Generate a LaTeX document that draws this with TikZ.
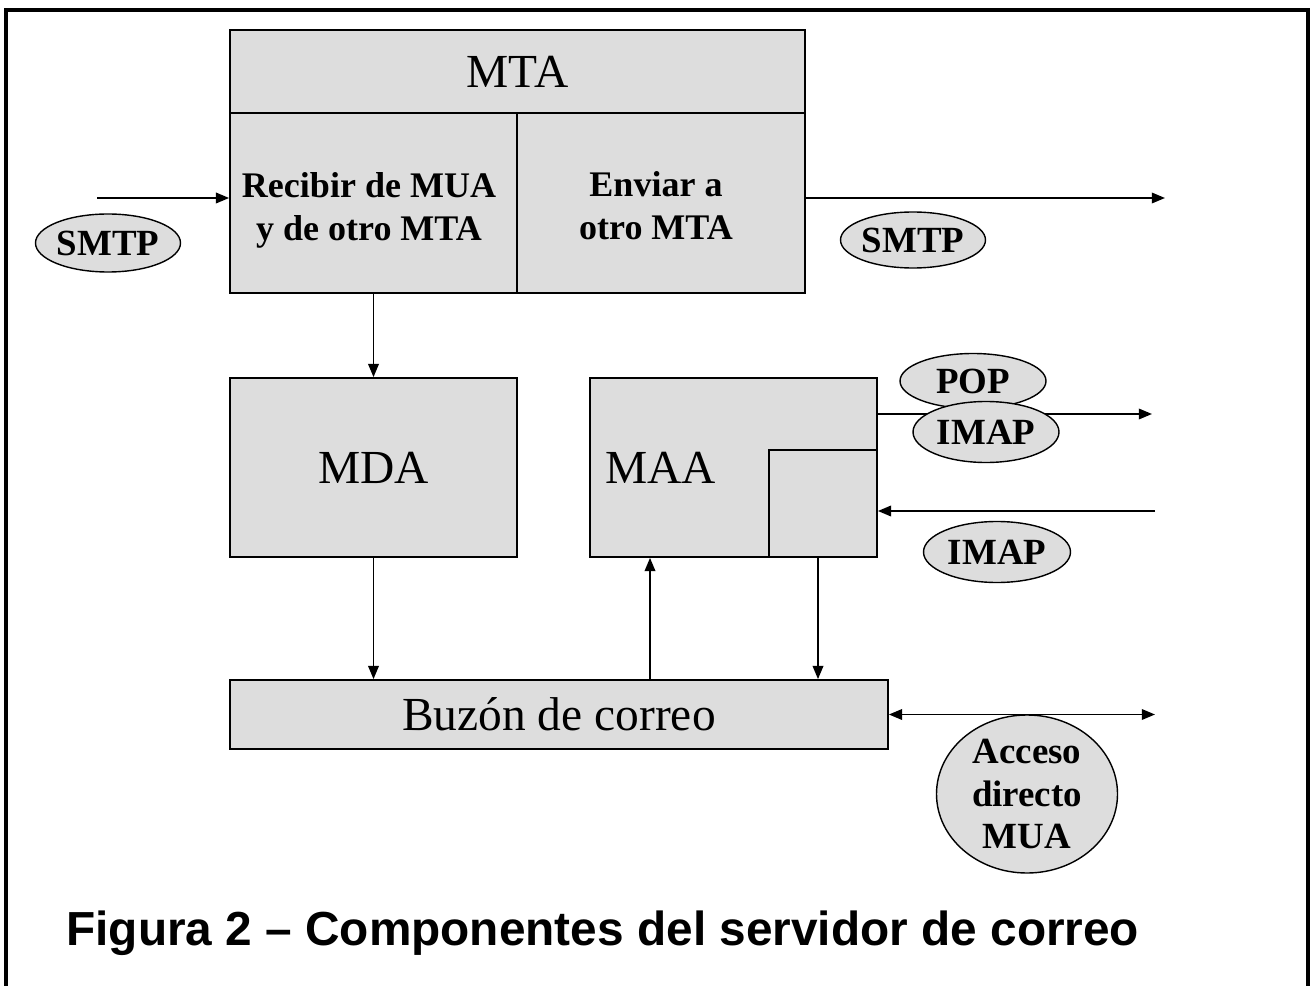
\documentclass[tikz,border=0pt]{standalone}
\usepackage{fontspec}
\setmainfont{Liberation Serif}
\newfontfamily\capfont{Liberation Sans}
\usetikzlibrary{shapes.geometric,arrows.meta}
\definecolor{boxgray}{RGB}{221,221,221}

\begin{document}
\begin{tikzpicture}[x=0.02cm,y=-0.02cm,
  >={Triangle[length=7.5pt,width=6pt]},
  box/.style={draw,fill=boxgray,line width=1pt,inner sep=0pt},
  proto/.style={ellipse,draw,fill=boxgray,line width=0.8pt,inner sep=0pt,align=center,
    minimum width=145*\px,minimum height=58*\px,font=\fontsize{21}{24.4}\selectfont\bfseries},
  big/.style={font=\fontsize{27}{30}\selectfont},
  bold/.style={font=\fontsize{20.5}{24.4}\selectfont\bfseries,align=center},
  link/.style={line width=1pt}]
  \def\px{0.02cm}
  \useasboundingbox (0,0) rectangle (1311,986);
  \draw[line width=2.3pt] (6,986) -- (6,10) -- (1308,10) -- (1308,986);
  % boxes
  \node[box,big,minimum width=575*\px,minimum height=83*\px] (mta) at (517.5,71.5) {MTA};
  \node[box,minimum width=287*\px,minimum height=180*\px] (recibir) at (373.5,203) {};
  \node[box,minimum width=288*\px,minimum height=180*\px] (enviar) at (661,203) {};
  \node[bold] (recibirlbl) at (369,210) {Recibir de MUA\\y de otro MTA};
  \node[bold] (enviarlbl) at (656,206) {Enviar a\\otro MTA};
  \node[box,big,minimum width=287*\px,minimum height=179*\px] (mda) at (373.5,467.5) {MDA};
  \node[box,minimum width=287*\px,minimum height=179*\px] (maa) at (733.5,467.5) {};
  \node[big,anchor=west,xshift=10*\px] (maalbl) at (maa.west) {MAA};
  \node[box,minimum width=108*\px,minimum height=107*\px] (inner) at (823,503.5) {};
  \node[box,big,minimum width=658*\px,minimum height=69*\px] (buzon) at (559,714.5) {Buzón de correo};
  % free ends
  \coordinate (smtpin) at (97,198);
  \coordinate (smtpout) at (1165,198);
  \coordinate (popout) at (1152,414);
  \coordinate (imapin) at (1155,511);
  \coordinate (directo) at (1155,714.5);
  \coordinate (up) at (650,680);
  \coordinate (down) at (818,557);
  % arrows
  \draw[link,->] (smtpin) -- (smtpin -| recibir.west);
  \draw[link,->] (smtpin -| enviar.east) -- (smtpout);
  \draw[link,->] (recibir.south) -- (mda.north);
  \draw[link,->] (mda.south) -- (buzon.north -| mda.south);
  \draw[link,->] (buzon.north -| up) -- (maa.south -| up);
  \draw[link,->] (inner.south -| down) -- (buzon.north -| down);
  \draw[link,->] (popout -| maa.east) -- (popout);
  \draw[link,->] (imapin) -- (imapin -| inner.east);
  \draw[link,<->] (buzon.east) -- (directo);
  % protocols
  \node[proto] (smtpa) at (108,243) {SMTP};
  \node[proto,minimum height=56*\px] (smtpb) at (913,240) {SMTP};
  \node[proto,minimum width=146*\px,minimum height=55*\px] (pop) at (973,381) {POP};
  \node[proto,minimum width=146*\px,minimum height=61*\px] (imapa) at (986,432) {IMAP};
  \node[proto,minimum width=147*\px,minimum height=61*\px] (imapb) at (997,552) {IMAP};
  \node[proto,minimum width=181*\px,minimum height=158*\px] (acceso) at (1027,794) {Acceso\\directo\\MUA};
  \node[anchor=base west,inner sep=0pt,font=\capfont\bfseries\fontsize{27.2}{30}\selectfont] (caption) at (66,945) {Figura 2 – Componentes del servidor de correo};
\end{tikzpicture}
\end{document}
